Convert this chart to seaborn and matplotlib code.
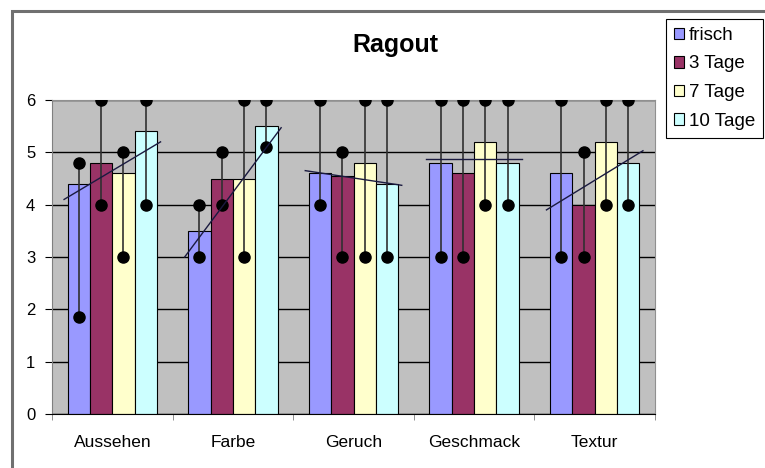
import numpy as np
import pandas as pd
import matplotlib
matplotlib.use('Agg')
import matplotlib.pyplot as plt
import seaborn as sns
from matplotlib.patches import Rectangle, Patch

# chart data
categories = ['Aussehen', 'Farbe', 'Geruch', 'Geschmack', 'Textur']
series = ['frisch', '3 Tage', '7 Tage', '10 Tage']

frisch = [4.4, 3.5, 4.6, 4.8, 4.6]
tage_3 = [4.8, 4.5, 4.55, 4.6, 4.0]
tage_7 = [4.6, 4.5, 4.8, 5.2, 5.2]
tage_10 = [5.4, 5.5, 4.4, 4.8, 4.8]

frisch_min = [1.85, 3, 4, 3, 3]
frisch_max = [4.8, 4, 6, 6, 6]
tage_3_min = [4, 4, 3, 3, 3]
tage_3_max = [6, 5, 5, 6, 5]
tage_7_min = [3, 3, 3, 4, 4]
tage_7_max = [5, 6, 6, 6, 6]
tage_10_min = [4, 5.1, 3, 4, 4]
tage_10_max = [6, 6, 6, 6, 6]

trend_start = [4.1, 3.0, 4.65, 4.87, 3.9]
trend_end = [5.2, 5.47, 4.37, 4.87, 5.03]

yticks = [0, 1, 2, 3, 4, 5, 6]
colors = ['#9999FF', '#993366', '#FFFFCC', '#CCFFFF']

# build long table for seaborn
means = [frisch, tage_3, tage_7, tage_10]
mins = [frisch_min, tage_3_min, tage_7_min, tage_10_min]
maxs = [frisch_max, tage_3_max, tage_7_max, tage_10_max]
rows = []
for s, vals in zip(series, means):
    for c, v in zip(categories, vals):
        rows.append({'Kategorie': c, 'Serie': s, 'Wert': v})
df = pd.DataFrame(rows)

plt.rcParams['font.family'] = ['Liberation Sans', 'DejaVu Sans']

fig = plt.figure(figsize=(7.65, 4.68), dpi=100)
ax = fig.add_axes([52 / 765, 1 - 414 / 468, 603 / 765, 314 / 468])
ax.set_facecolor('#C0C0C0')
ax.set_axisbelow(True)

sns.barplot(data=df, x='Kategorie', y='Wert', hue='Serie', order=categories,
            hue_order=series, palette=dict(zip(series, colors)), saturation=1,
            width=0.74, edgecolor='black', linewidth=0.8, errorbar=None,
            legend=False, ax=ax)

# min / max lines with dots at every bar centre
for cont, lo, hi in zip(ax.containers, mins, maxs):
    for bar, a, b in zip(cont, lo, hi):
        xc = bar.get_x() + bar.get_width() / 2
        ax.plot([xc, xc], [a, b], color='#303030', lw=1.2, zorder=4)
        ax.plot([xc, xc], [a, b], 'o', color='black', ms=8, zorder=5)

# trend lines per category
for i, (a, b) in enumerate(zip(trend_start, trend_end)):
    ax.plot([i - 0.4, i + 0.4], [a, b], color='#1a1a40', lw=1.0, zorder=6)

ax.set_xlim(-0.5, len(categories) - 0.5)
ax.set_ylim(0, 6)
ax.set_yticks(yticks)
ax.yaxis.grid(True, color='black', lw=1.0)
ax.set_xlabel('')
ax.set_ylabel('')

ax.set_xticks(range(len(categories)))
ax.set_xticklabels(categories)
ax.set_xticks(np.arange(-0.5, len(categories), 1), minor=True)
ax.tick_params(axis='x', which='major', length=0, pad=15, labelsize=12.5)
ax.tick_params(axis='x', which='minor', length=4, color='#808080')
ax.tick_params(axis='y', length=5, pad=7, labelsize=12)

for side in ['top', 'right']:
    ax.spines[side].set_color('#909090')
ax.spines['left'].set_color('#808080')
ax.spines['bottom'].set_color('black')

fig.text(395 / 765, 1 - 45 / 468, 'Ragout', ha='center', va='center',
         fontsize=18, fontweight='bold')

handles = [Patch(facecolor=c, edgecolor='black', lw=0.8) for c in colors]
leg = fig.legend(handles, series, loc='upper left',
                 bbox_to_anchor=(666 / 765, 1 - 19 / 468), fontsize=13.5,
                 handlelength=0.55, handleheight=0.55, handletextpad=0.25,
                 labelspacing=0.62, borderpad=0.42, borderaxespad=0,
                 fancybox=False, framealpha=1, edgecolor='black')
leg.get_frame().set_linewidth(0.8)

# outer chart frame
fig.patches.append(Rectangle((12 / 765, -0.1), 1.0, 1 - 11 / 468 + 0.1,
                             transform=fig.transFigure, fill=False,
                             edgecolor='#707070', lw=2.2))

fig.savefig('out.png', dpi=100)
